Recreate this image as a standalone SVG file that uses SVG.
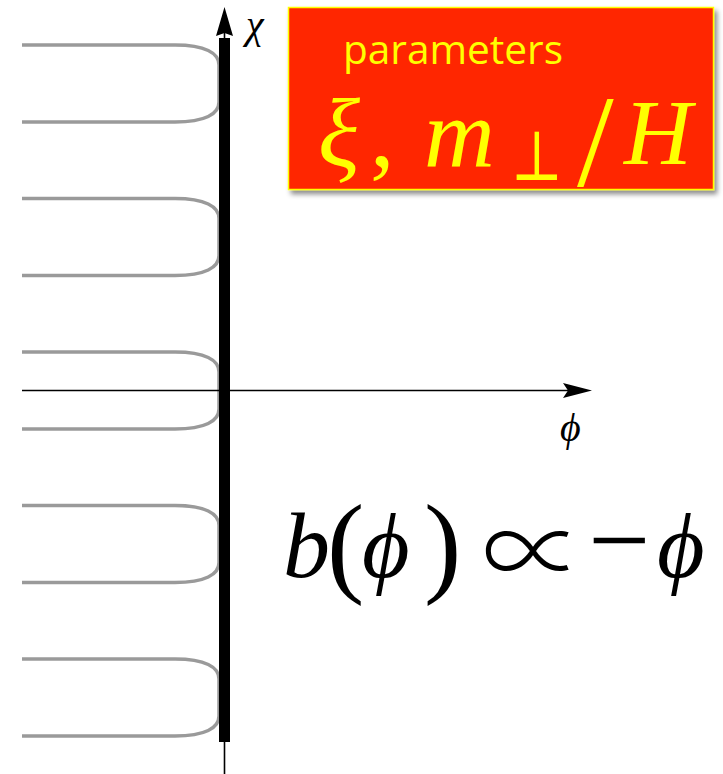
<svg xmlns="http://www.w3.org/2000/svg" width="723" height="774" viewBox="0 0 723 774">
<style>
.curve{fill:none;stroke:#9a9a9a;stroke-width:3.5}
.math{font-family:"Liberation Serif","DejaVu Serif",serif;font-style:italic}
.up{font-family:"Liberation Serif","DejaVu Serif",serif;font-style:normal}
.sym{font-family:"DejaVu Serif",serif;font-style:normal}
.yel{fill:#ffff00}
</style>
<defs>
<filter id="sh" x="-10%" y="-10%" width="120%" height="130%">
<feDropShadow dx="3" dy="4" stdDeviation="2.5" flood-color="#000" flood-opacity="0.45"/>
</filter>
</defs>
<rect width="723" height="774" fill="#fff"/>
<g id="curves">
<path class="curve" d="M22,45 L175,45 C205,45 219,53 219,65 L219,102 C219,114 205,122 175,122 L22,122"/>
<path class="curve" d="M22,198.5 L175,198.5 C205,198.5 219,206.5 219,218.5 L219,255.5 C219,267.5 205,275.5 175,275.5 L22,275.5"/>
<path class="curve" d="M22,352 L175,352 C205,352 219,360 219,372 L219,409 C219,421 205,429 175,429 L22,429"/>
<path class="curve" d="M22,505.5 L175,505.5 C205,505.5 219,513.5 219,525.5 L219,562.5 C219,574.5 205,582.5 175,582.5 L22,582.5"/>
<path class="curve" d="M22,659 L175,659 C205,659 219,667 219,679 L219,716 C219,728 205,736 175,736 L22,736"/>
</g>
<g id="connectors">
<line x1="22" y1="390.5" x2="570" y2="390.5" stroke="#000" stroke-width="1.6"/>
<polygon points="592,390.5 563,383 568,390.5 563,398" fill="#000"/>
<line x1="224.5" y1="30" x2="224.5" y2="774" stroke="#000" stroke-width="1.6"/>
<polygon points="224.5,7 233,36 224.5,33 216,36" fill="#000"/>
<rect id="bar" x="219" y="38" width="11" height="704" fill="#000"/>
</g>
<g id="chi-label">
<text class="math" x="246" y="38" font-size="40">χ</text>
</g>
<g id="phi-label">
<text class="math" x="560" y="441" font-size="40">ϕ</text>
</g>
<g id="param-box">
<rect x="288.5" y="7.5" width="425" height="182" fill="#ff2600" stroke="#ffff00" stroke-width="1.5" filter="url(#sh)"/>
<text x="343" y="64" font-family="'Open Sans','Liberation Sans',sans-serif" font-size="40" class="yel" textLength="220" lengthAdjust="spacingAndGlyphs">parameters</text>
<text class="math yel" x="318" y="166" font-size="98">ξ</text>
<text class="up yel" x="370" y="166" font-size="98">,</text>
<text class="math yel" x="424" y="166" font-size="98">m</text>
<text class="sym yel" x="511" y="180" font-size="70" textLength="52" lengthAdjust="spacingAndGlyphs">⊥</text>
<text class="up yel" x="577" y="186" font-size="132">/</text>
<text class="math yel" x="624" y="164" font-size="94">H</text>
</g>
<g id="formula">
<text class="math" x="283" y="577" font-size="94">b</text>
<text class="up" x="327" y="582" font-size="112">(</text>
<text class="math" x="362" y="577" font-size="92">ϕ</text>
<text class="up" x="424" y="582" font-size="112">)</text>
<text x="482" y="589" font-size="102" font-weight="300" font-family="'Noto Sans CJK JP','Noto Sans CJK SC',serif">∝</text>
<text class="up" x="588" y="577" font-size="110">−</text>
<text class="math" x="657" y="577" font-size="92">ϕ</text>
</g>
</svg>
